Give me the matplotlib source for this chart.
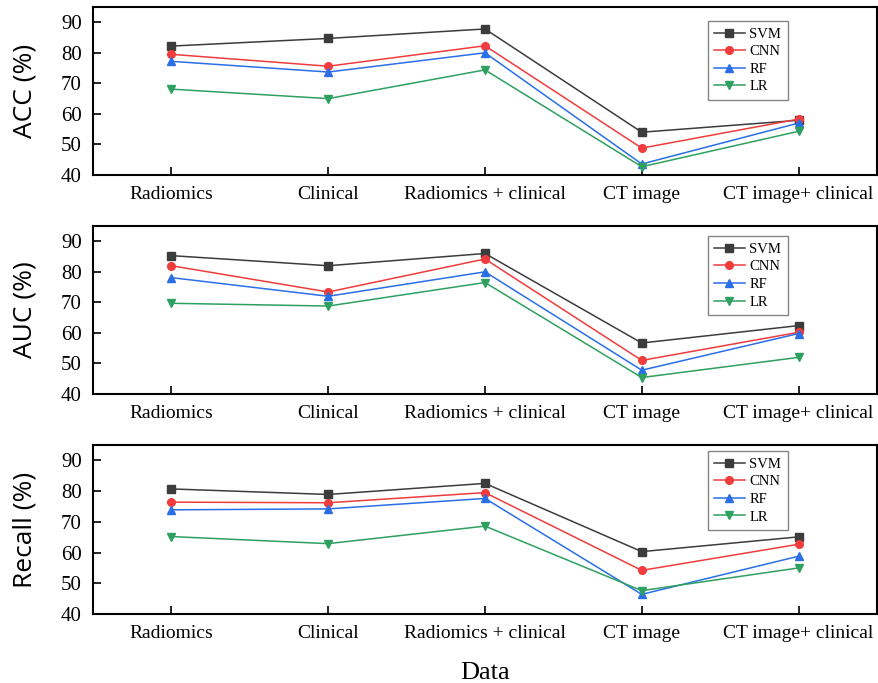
import matplotlib
matplotlib.use("Agg")
import matplotlib.pyplot as plt

# data
categories = ["Radiomics", "Clinical", "Radiomics + clinical", "CT image", "CT image+ clinical"]
models = ["SVM", "CNN", "RF", "LR"]

acc_svm = [82.2, 84.7, 87.8, 54.0, 57.9]
acc_cnn = [79.5, 75.6, 82.3, 48.8, 58.3]
acc_rf = [77.2, 73.7, 80.0, 43.6, 57.0]
acc_lr = [68.1, 65.0, 74.4, 42.7, 54.3]

auc_svm = [85.3, 82.0, 86.0, 56.7, 62.4]
auc_cnn = [82.0, 73.4, 84.2, 51.0, 60.2]
auc_rf = [78.1, 72.0, 80.0, 47.8, 59.8]
auc_lr = [69.7, 68.8, 76.5, 45.4, 52.0]

rec_svm = [80.7, 78.9, 82.5, 60.3, 65.1]
rec_cnn = [76.4, 76.2, 79.5, 54.2, 62.7]
rec_rf = [73.9, 74.2, 77.6, 46.4, 58.8]
rec_lr = [65.2, 62.9, 68.6, 47.6, 55.0]

yticks = [40, 50, 60, 70, 80, 90]

colors = ["#3c3c3c", "#f03c3c", "#2a6ee8", "#2ea060"]
markers = ["s", "o", "^", "v"]

serif = ["Liberation Serif", "DejaVu Serif"]

fig = plt.figure(figsize=(8.79, 6.83), dpi=100)

panels = [
    ("ACC (%)", [acc_svm, acc_cnn, acc_rf, acc_lr], [0.1058, 0.7438, 0.8919, 0.2460], 0.917),
    ("AUC (%)", [auc_svm, auc_cnn, auc_rf, auc_lr], [0.1058, 0.4231, 0.8919, 0.2460], 0.940),
    ("Recall (%)", [rec_svm, rec_cnn, rec_rf, rec_lr], [0.1058, 0.1010, 0.8919, 0.2475], 0.964),
]

x = list(range(len(categories)))
for ylab, series, rect, leg_y in panels:
    ax = fig.add_axes(rect)
    for name, vals, c, m in zip(models, series, colors, markers):
        ax.plot(x, vals, color=c, marker=m, markersize=5.5, linewidth=1.1, label=name)
    ax.set_xlim(-0.5, 4.5)
    ax.set_ylim(40, 95)
    ax.set_yticks(yticks)
    ax.set_xticks(x)
    ax.set_xticklabels(categories, fontfamily=serif, fontsize=14)
    for lbl in ax.get_yticklabels():
        lbl.set_fontfamily(serif)
        lbl.set_fontsize(15)
    ax.tick_params(direction="in", length=6, width=1.2, pad=8)
    for sp in ax.spines.values():
        sp.set_linewidth(1.5)
    ax.set_ylabel(ylab, fontfamily="Open Sans", fontsize=19)
    ax.yaxis.set_label_coords(-0.0714, 0.5)
    leg = ax.legend(loc="upper right", bbox_to_anchor=(0.886, leg_y),
                    prop={"family": serif, "size": 10.5}, frameon=True,
                    fancybox=False, edgecolor="#666666", handlelength=2.1,
                    handletextpad=0.3, borderpad=0.45, labelspacing=0.3,
                    borderaxespad=0)
    leg.get_frame().set_linewidth(1.0)
    if ylab.startswith("Recall"):
        ax.set_xlabel("Data", fontfamily=serif, fontsize=19, labelpad=14)

fig.savefig("out.png", dpi=100)
